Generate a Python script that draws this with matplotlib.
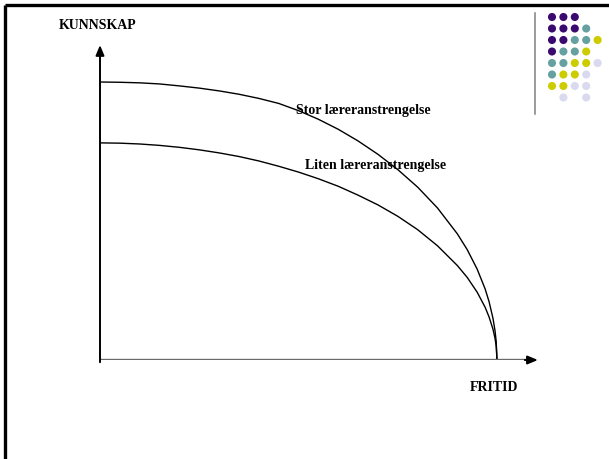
import matplotlib
matplotlib.use("Agg")
import matplotlib.pyplot as plt

plt.rcParams["font.family"] = ["Liberation Serif", "DejaVu Serif"]

# curves (fritid on x, kunnskap on y, 0..10 scale)
curve_x = [0, 0.5, 1, 1.5, 2, 2.5, 3, 3.5, 4, 4.5, 5, 5.5, 6, 6.5, 7, 7.5, 8, 8.5,
           9, 9.25, 9.5, 9.7, 9.8, 9.9, 9.95, 9.98, 10]
stor_y = [10.00, 9.99, 9.97, 9.93, 9.86, 9.78, 9.68, 9.56, 9.41, 9.23, 8.97, 8.66,
          8.30, 7.88, 7.40, 6.85, 6.22, 5.47, 4.54, 3.97, 3.27, 2.56, 2.10, 1.49,
          1.05, 0.66, 0]
liten_y = [7.81, 7.80, 7.77, 7.72, 7.65, 7.56, 7.45, 7.32, 7.16, 6.97, 6.76, 6.52,
           6.25, 5.93, 5.58, 5.17, 4.69, 4.11, 3.40, 2.97, 2.44, 1.90, 1.55, 1.10,
           0.78, 0.49, 0]

x_label = "FRITID"
y_label = "KUNNSKAP"
stor_label = "Stor læreranstrengelse"
liten_label = "Liten læreranstrengelse"

# decorative dot block in the top right corner of the slide template
dot_pattern = [
    "PPP..",
    "PPPT.",
    "PPTTY",
    "PTTY.",
    "TTYYL",
    "TYYL.",
    "YYLL.",
    ".L.L.",
]
dot_colors = {"P": "#3b0a6e", "T": "#66a0a0", "Y": "#cccc00", "L": "#d9d9ef"}

W, H = 609, 459
fig = plt.figure(figsize=(W / 100, H / 100), dpi=100)

# slide decoration in pixel coordinates
deco = fig.add_axes([0, 0, 1, 1])
deco.set_xlim(0, W)
deco.set_ylim(H, 0)
deco.axis("off")
deco.plot([5, W], [5, 5], color="black", lw=2.4, solid_capstyle="butt")
deco.plot([5, 5], [5, H], color="black", lw=2.4, solid_capstyle="butt")
deco.plot([535, 535], [13, 114], color="#808080", lw=1.1)
for r, row in enumerate(dot_pattern):
    for c, ch in enumerate(row):
        if ch == ".":
            continue
        deco.scatter(552 + c * 11.4, 17 + r * 11.5, s=34, color=dot_colors[ch],
                     edgecolors="none", zorder=3)

# chart area: origin at (100, 360) px, 39.7 px per x unit, 27.8 px per y unit
ax = fig.add_axes([100 / W, (H - 360) / H, 12 * 39.7 / W, 12 * 27.8 / H])
ax.set_xlim(0, 12)
ax.set_ylim(0, 12)
ax.axis("off")
ax.patch.set_alpha(0)

ax.plot(curve_x, stor_y, color="black", lw=1.0)
ax.plot(curve_x, liten_y, color="black", lw=1.0)

arrow = "-|>,head_length=0.6,head_width=0.25"
ax.annotate("", xy=(0, 11.33), xytext=(0, -0.08),
            arrowprops=dict(arrowstyle=arrow, color="black", lw=1.4,
                            shrinkA=0, shrinkB=0))
ax.plot([0, 10.8], [0, 0], color="#6a6a6a", lw=1.7, solid_capstyle="butt")
ax.annotate("", xy=(11.03, 0), xytext=(10.7, 0),
            arrowprops=dict(arrowstyle=arrow, color="black", lw=1.4,
                            shrinkA=0, shrinkB=0))

ax.text(-0.05, 12.05, y_label, ha="center", va="center", fontsize=10, fontweight="bold")
ax.text(9.93, -1.0, x_label, ha="center", va="center", fontsize=10, fontweight="bold")
ax.text(4.93, 8.99, stor_label, ha="left", va="center", fontsize=10, fontweight="bold")
ax.text(5.16, 6.98, liten_label, ha="left", va="center", fontsize=10, fontweight="bold")

fig.savefig("out.png", dpi=100)
